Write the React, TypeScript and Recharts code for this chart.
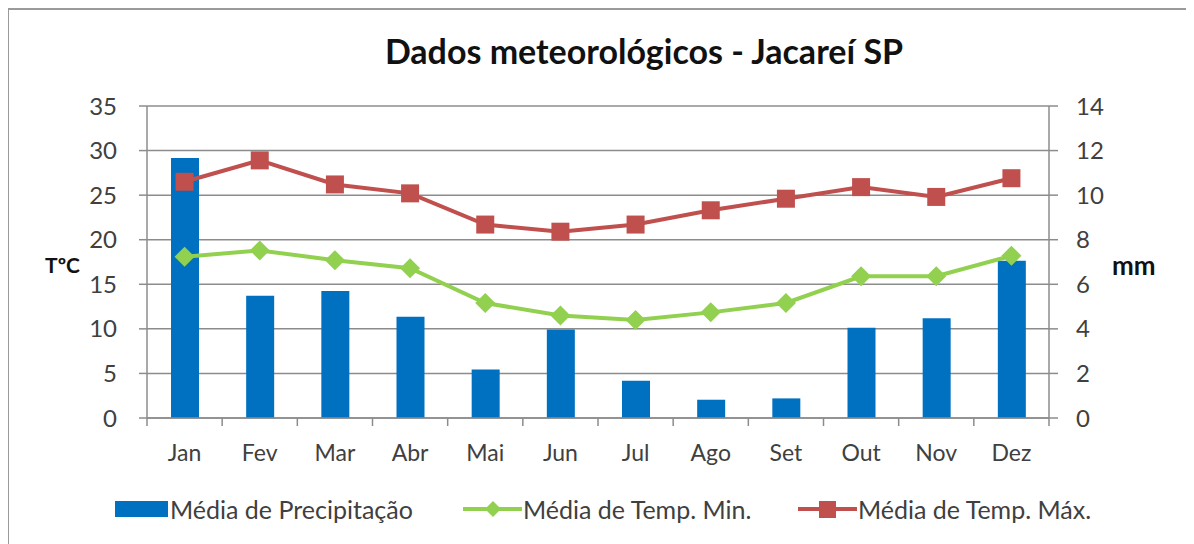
import React from 'react'
import { ComposedChart, Bar, Line, XAxis, YAxis, CartesianGrid, Legend } from 'recharts'

const months = ['Jan', 'Fev', 'Mar', 'Abr', 'Mai', 'Jun', 'Jul', 'Ago', 'Set', 'Out', 'Nov', 'Dez']
const precipitation = [11.67, 5.49, 5.7, 4.54, 2.18, 3.97, 1.67, 0.82, 0.88, 4.05, 4.48, 7.06]
const tempMin = [18.1, 18.8, 17.7, 16.8, 12.9, 11.5, 11.0, 11.85, 12.9, 15.9, 15.9, 18.2]
const tempMax = [26.5, 28.9, 26.2, 25.2, 21.7, 20.9, 21.7, 23.3, 24.6, 25.9, 24.8, 26.9]
const leftTicks = [0, 5, 10, 15, 20, 25, 30, 35]
const rightTicks = [0, 2, 4, 6, 8, 10, 12, 14]

const data = months.map((m, i) => ({
  month: m,
  precip: precipitation[i],
  min: tempMin[i],
  max: tempMax[i],
}))

const FONT = 'Lato, "Open Sans", sans-serif'
const BLUE = '#0070C0'
const GREEN = '#92D050'
const RED = '#C0504D'
const GRID = '#8c8c8c'
const TEXT = '#404040'
const BAND = 902 / 12

function MonthTick(props: any) {
  const { x, y, payload, index } = props
  return (
    <g>
      <line x1={x - BAND / 2} x2={x - BAND / 2} y1={y} y2={y + 8} stroke={GRID} strokeWidth={1.5} />
      {index === months.length - 1 && (
        <line x1={x + BAND / 2} x2={x + BAND / 2} y1={y} y2={y + 8} stroke={GRID} strokeWidth={1.5} />
      )}
      <text x={x} y={y + 43} textAnchor="middle" fill={TEXT} fontSize={23} fontFamily={FONT}>
        {payload.value}
      </text>
    </g>
  )
}

function Diamond(props: any) {
  const { cx, cy } = props
  if (cx == null || cy == null) return null
  const r = 10
  return <polygon points={`${cx},${cy - r} ${cx + r},${cy} ${cx},${cy + r} ${cx - r},${cy}`} fill={GREEN} />
}

function Square(props: any) {
  const { cx, cy } = props
  if (cx == null || cy == null) return null
  return <rect x={cx - 9} y={cy - 9} width={18} height={18} fill={RED} />
}

const legendLefts = [107, 455, 790]

function ChartLegend() {
  const items = [
    { label: 'Média de Precipitação', kind: 'bar' },
    { label: 'Média de Temp. Min.', kind: 'min' },
    { label: 'Média de Temp. Máx.', kind: 'max' },
  ]
  return (
    <div style={{ position: 'relative', height: 30, fontFamily: FONT, fontSize: 25, color: TEXT }}>
      {items.map((it, i) => (
        <div
          key={it.label}
          style={{ position: 'absolute', left: legendLefts[i], top: 0, display: 'flex', alignItems: 'center', height: 30 }}
        >
          <svg width={it.kind === 'bar' ? 55 : 60} height={30}>
            {it.kind === 'bar' && <rect x={0} y={7} width={53} height={16} fill={BLUE} />}
            {it.kind === 'min' && (
              <>
                <line x1={0} x2={59} y1={15} y2={15} stroke={GREEN} strokeWidth={4} />
                <polygon points="30,7 38,15 30,23 22,15" fill={GREEN} />
              </>
            )}
            {it.kind === 'max' && (
              <>
                <line x1={0} x2={59} y1={15} y2={15} stroke={RED} strokeWidth={4} />
                <rect x={21} y={7} width={17} height={17} fill={RED} />
              </>
            )}
          </svg>
          <span style={{ whiteSpace: 'nowrap' }}>{it.label}</span>
        </div>
      ))}
    </div>
  )
}

export default function App() {
  return (
    <div style={{ position: 'relative', width: 1182, height: 536, background: '#fff' }}>
      <div
        style={{
          position: 'absolute',
          left: -1,
          top: 0,
          width: 1180,
          height: 540,
          borderLeft: '2px solid #9a9a9a',
          borderTop: '2px solid #9a9a9a',
          borderRight: '1px solid #e6e6e6',
          pointerEvents: 'none',
        }}
      />
      <div
        style={{
          position: 'absolute',
          left: 0,
          width: 1272,
          top: 22,
          textAlign: 'center',
          fontFamily: FONT,
          fontWeight: 700,
          fontSize: 34,
          color: '#111',
        }}
      >
        Dados meteorológicos - Jacareí SP
      </div>
      <ComposedChart
        width={1182}
        height={536}
        data={data}
        margin={{ top: 98, left: 79, right: 81, bottom: 66 }}
      >
        <CartesianGrid vertical={false} stroke={GRID} strokeWidth={1.5} yAxisId="left" />
        <XAxis
          dataKey="month"
          height={60}
          tickSize={0}
          tickMargin={0}
          tickLine={false}
          axisLine={{ stroke: GRID, strokeWidth: 1.5 }}
          tick={<MonthTick />}
          interval={0}
        />
        <YAxis
          yAxisId="left"
          domain={[0, 35]}
          ticks={leftTicks}
          width={60}
          tickSize={8}
          tickMargin={22}
          axisLine={{ stroke: GRID, strokeWidth: 1.5 }}
          tickLine={{ stroke: GRID, strokeWidth: 1.5 }}
          tick={{ fill: TEXT, fontSize: 24, fontFamily: FONT }}
          label={{ value: 'TºC', position: 'left', offset: 7, dy: 4, fill: '#111', fontSize: 21, fontWeight: 700, fontFamily: FONT }}
        />
        <YAxis
          yAxisId="right"
          orientation="right"
          domain={[0, 14]}
          ticks={rightTicks}
          width={60}
          tickSize={9}
          tickMargin={18}
          axisLine={{ stroke: GRID, strokeWidth: 1.5 }}
          tickLine={{ stroke: GRID, strokeWidth: 1.5 }}
          tick={{ fill: TEXT, fontSize: 24, fontFamily: FONT, textAnchor: 'start' }}
          label={{ value: 'mm', position: 'right', offset: 3, dy: 4, fill: '#111', fontSize: 26, fontWeight: 700, fontFamily: FONT }}
        />
        <Bar yAxisId="right" dataKey="precip" name="Média de Precipitação" fill={BLUE} barSize={28} isAnimationActive={false} />
        <Line
          yAxisId="left"
          dataKey="min"
          name="Média de Temp. Min."
          stroke={GREEN}
          strokeWidth={4}
          dot={<Diamond />}
          activeDot={false}
          isAnimationActive={false}
        />
        <Line
          yAxisId="left"
          dataKey="max"
          name="Média de Temp. Máx."
          stroke={RED}
          strokeWidth={4}
          dot={<Square />}
          activeDot={false}
          isAnimationActive={false}
        />
        <Legend
          layout="horizontal"
          verticalAlign="middle"
          align="center"
          content={<ChartLegend />}
          wrapperStyle={{ top: 486, left: 0, width: 1182, height: 30 }}
        />
      </ComposedChart>
    </div>
  )
}
